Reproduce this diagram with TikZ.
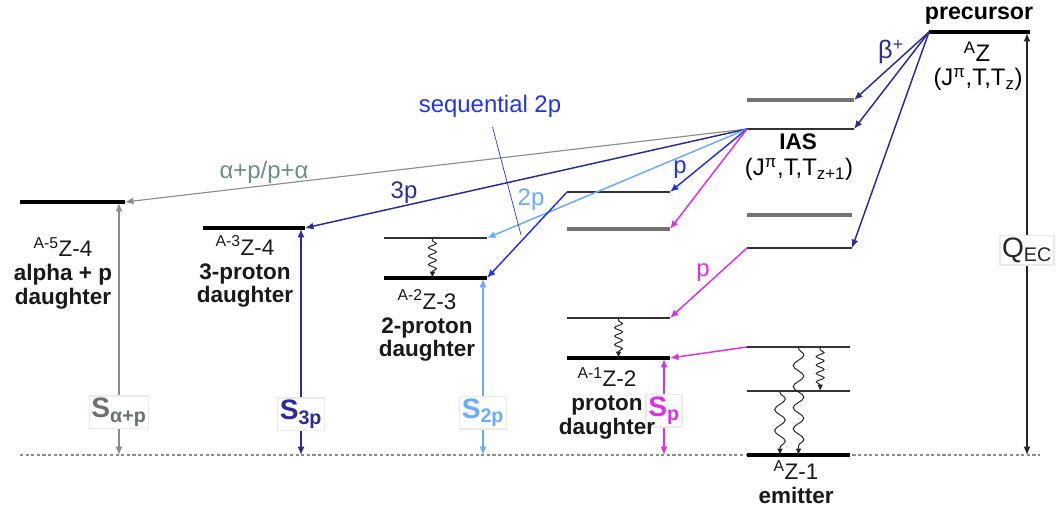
\documentclass[tikz,border=0pt]{standalone}
\usepackage{fontspec}
\setmainfont{Liberation Sans}
\usetikzlibrary{arrows.meta,calc,decorations.pathmorphing}
\definecolor{navy}{HTML}{2B2B9C}
\definecolor{seqblue}{HTML}{2233EE}
\definecolor{lblue}{HTML}{6AAAFF}
\definecolor{mag}{HTML}{DD2EEE}
\definecolor{alph}{HTML}{8C8C8C}
\definecolor{alphtxt}{HTML}{6E8C8C}
\definecolor{stxt}{HTML}{6B7070}
\tikzset{
  lvl/.style   ={line width=1.5pt, draw=black!80},
  glvl/.style  ={line width=2.3pt, draw=black!55},
  gslvl/.style ={line width=2.7pt, draw=black},
  tr/.style    ={-{Latex[length=6pt,width=5pt]}, line width=1.05pt},
  sep/.style   ={{Latex[length=6pt,width=5pt]}-{Latex[length=6pt,width=5pt]}, line width=1.05pt},
  gam/.style   ={-{Latex[length=4.5pt,width=4pt]}, line width=0.7pt, draw=black!85, decorate,
                 decoration={snake, amplitude=2.8pt, segment length=6pt, pre length=2pt, post length=4.5pt}},
  gamw/.style  ={gam, decoration={snake, amplitude=3.8pt, segment length=15pt, pre length=1pt, post length=4.5pt}},
  nuc/.style   ={font=\fontsize{16}{17}\selectfont, align=center, anchor=north, inner sep=0pt, text=black!90},
  txt/.style   ={font=\fontsize{17}{19}\selectfont, inner sep=0pt},
  slab/.style  ={font=\fontsize{20}{22}\selectfont\bfseries, fill=white, draw=black!8, inner sep=1.5pt},
}
\begin{document}
\begin{tikzpicture}[x=0.025cm, y=-0.025cm]
  \useasboundingbox (0,0) rectangle (1056,511);
  % separation energy reference
  \coordinate (bl) at (20,455);  \coordinate (br) at (1040,455);
  \draw[black!45, line width=0.8pt, dash pattern=on 2.2pt off 1.8pt] (bl) -- (br);

  % precursor and emitter
  \coordinate (prL) at (929,32);  \coordinate (prR) at (1030,32);
  \coordinate (e1L) at (747,100); \coordinate (e1R) at (854,100);
  \coordinate (iasL) at (747,129);\coordinate (iasR) at (854,129);
  \coordinate (e3L) at (747,215); \coordinate (e3R) at (852,215);
  \coordinate (e4L) at (747,248); \coordinate (e4R) at (852,248);
  \coordinate (e5L) at (747,347); \coordinate (e5R) at (850,347);
  \coordinate (e6L) at (747,391); \coordinate (e6R) at (850,391);
  \coordinate (emL) at (747,455); \coordinate (emR) at (850,455);
  % proton daughter
  \coordinate (p1L) at (567,192); \coordinate (p1R) at (670,192);
  \coordinate (p2L) at (567,229); \coordinate (p2R) at (670,229);
  \coordinate (p3L) at (567,318); \coordinate (p3R) at (670,318);
  \coordinate (pgL) at (567,358); \coordinate (pgR) at (670,358);
  % 2-proton daughter
  \coordinate (d1L) at (384,238); \coordinate (d1R) at (487,238);
  \coordinate (dgL) at (384,278); \coordinate (dgR) at (487,278);
  % 3-proton and alpha+p daughters
  \coordinate (tgL) at (203,228); \coordinate (tgR) at (305,228);
  \coordinate (agL) at (20,202);  \coordinate (agR) at (125,202);

  \draw[gslvl] (prL) -- (prR);
  \draw[glvl] (e1L) -- (e1R);
  \draw[lvl]  (iasL) -- (iasR);
  \draw[glvl] (e3L) -- (e3R);
  \draw[lvl]  (e4L) -- (e4R);
  \draw[lvl]  (e5L) -- (e5R);
  \draw[lvl]  (e6L) -- (e6R);
  \draw[gslvl] (emL) -- (emR);
  \draw[lvl]  (p1L) -- (p1R);
  \draw[glvl] (p2L) -- (p2R);
  \draw[lvl]  (p3L) -- (p3R);
  \draw[gslvl] (pgL) -- (pgR);
  \draw[lvl]  (d1L) -- (d1R);
  \draw[gslvl] (dgL) -- (dgR);
  \draw[gslvl] (tgL) -- (tgR);
  \draw[gslvl] (agL) -- (agR);

  % beta decay
  \draw[tr,navy] (prL) -- (e1R);
  \draw[tr,navy] (prL) -- (iasR);
  \draw[tr,navy] (prL) -- (e4R);
  % particle emission
  \draw[tr,alph, line width=0.8pt] (iasL) -- (agR);
  \draw[tr,navy] (iasL) -- (tgR);
  \draw[tr,lblue] (iasL) -- (d1R);
  \draw[tr,seqblue] (iasL) -- (p1R);
  \draw[tr,seqblue] (p1L) -- (dgR);
  \draw[tr,mag] (iasL) -- (p2R);
  \draw[tr,mag] (e4L) -- (p3R);
  \draw[tr,mag] (e5L) -- (pgR);

  % gamma cascades
  \draw[gam]  ($(p3L)!0.5!(p3R)$) -- ($(pgL)!0.5!(pgR)$);
  \draw[gam]  ($(d1L)!0.47!(d1R)$) -- ($(dgL)!0.47!(dgR)$);
  \draw[gam]  ($(e5L)!0.71!(e5R)$) -- ($(e6L)!0.71!(e6R)$);
  \draw[gamw] ($(e5L)!0.5!(e5R)$) -- ($(emL)!0.5!(emR)$);
  \draw[gamw] ($(e6L)!0.32!(e6R)$) -- ($(emL)!0.32!(emR)$);

  % separation energies
  \coordinate (sa1) at (119,203); \coordinate (sa2) at (119,455);
  \coordinate (s31) at (301,229); \coordinate (s32) at (301,455);
  \coordinate (s21) at (483,279); \coordinate (s22) at (483,455);
  \coordinate (sp1) at (664,359); \coordinate (sp2) at (664,455);
  \coordinate (q1) at (1027,455); \coordinate (q2) at (1027,33);
  \draw[sep,alph] (sa1) -- node[slab, text=stxt, pos=0.83] (sal) {S\textsubscript{α+p}} (sa2);
  \draw[sep,navy] (s31) -- node[slab, text=navy, pos=0.82] (s3l) {S\textsubscript{3p}} (s32);
  \draw[sep,lblue] (s21) -- node[slab, text=lblue, pos=0.76] (s2l) {S\textsubscript{2p}} (s22);
  \draw[sep,mag] (sp1) -- node[slab, text=mag, pos=0.54] (spl) {S\textsubscript{p}} (sp2);
  \draw[sep,black!85] (q1) -- node[slab, font=\fontsize{20}{22}\selectfont, pos=0.485] (qec) {Q\textsubscript{EC}} (q2);

  % level labels
  \node[txt, font=\fontsize{16.5}{18}\selectfont\bfseries, anchor=base] (prec) at (979,20) {precursor};
  \node[txt, anchor=base] (azl) at (977,62) {\textsuperscript{A}Z};
  \node[txt, anchor=base] (azq) at (978,86) {(J\textsuperscript{π},T,T\textsubscript{z})};
  \node[txt, font=\fontsize{16}{18}\selectfont\bfseries, anchor=base] (ias) at (798,150) {IAS};
  \node[txt, anchor=base] (iasq) at (799,176) {(J\textsuperscript{π},T,T\textsubscript{z+1})};
  \node[nuc] (alab) at (63,237) {\textsuperscript{A-5}Z-4\\{\bfseries alpha + p}\\{\bfseries daughter}};
  \node[nuc] (tlab) at (245,235) {\textsuperscript{A-3}Z-4\\{\bfseries 3-proton}\\{\bfseries daughter}};
  \node[nuc] (dlab) at (427,289) {\textsuperscript{A-2}Z-3\\{\bfseries 2-proton}\\{\bfseries daughter}};
  \node[nuc] (plab) at (607,367) {\textsuperscript{A-1}Z-2\\{\bfseries proton}\\{\bfseries daughter}};
  \node[nuc] (elab) at (796,460) {\textsuperscript{A}Z-1\\{\bfseries emitter}};

  % transition labels
  \node[txt, text=navy, font=\fontsize{18}{20}\selectfont] (bpl) at (891,52) {β\textsuperscript{+}};
  \node[txt, text=alphtxt] (apl) at (264,172) {α+p/p+α};
  \node[txt, text=navy] (p3l) at (404,193) {3p};
  \node[txt, text=lblue] (p2l) at (531,200) {2p};
  \node[txt, text=seqblue] (p1l) at (680,170) {p};
  \node[txt, text=mag] (pml) at (703,273) {p};
  \node[txt, text=seqblue] (seql) at (490,106) {sequential 2p};
  \coordinate (seqpt) at (521,235);
  \draw[seqblue, line width=0.5pt, shorten <=7pt] (seql.south) -- (seqpt);
\end{tikzpicture}
\end{document}
